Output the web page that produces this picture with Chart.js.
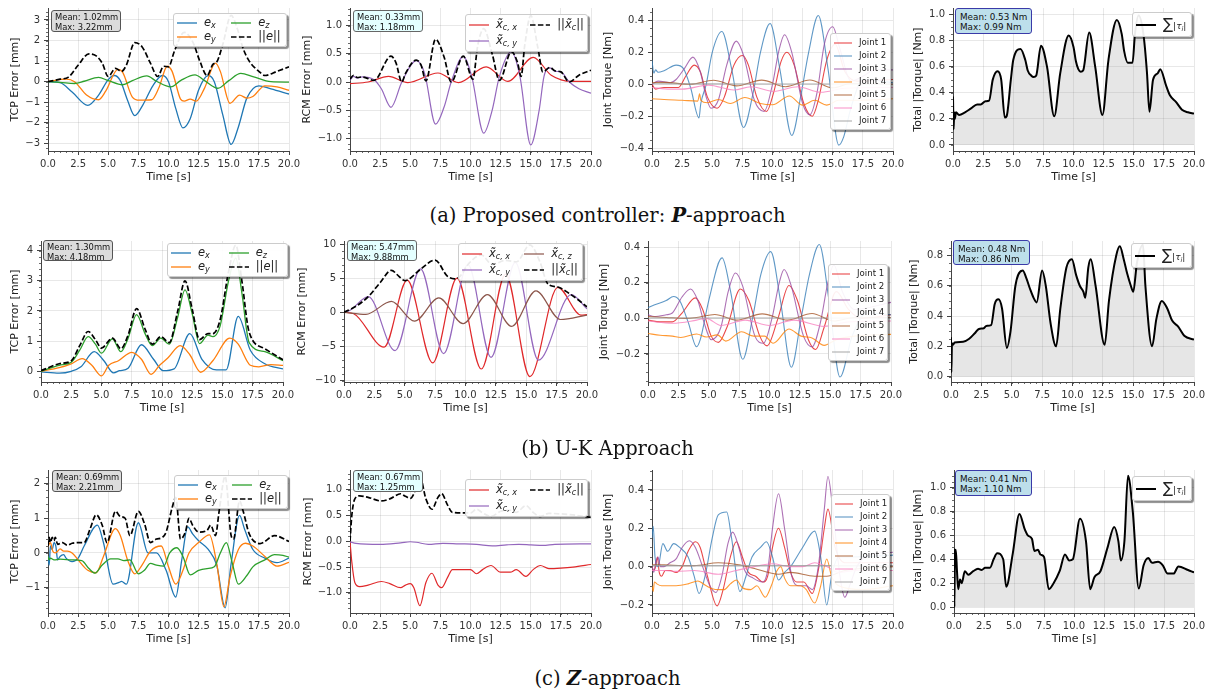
<!DOCTYPE html>
<html>
<head>
<meta charset="utf-8">
<script src="https://cdn.jsdelivr.net/npm/chart.js@4.4.0/dist/chart.umd.min.js"></script>
<style>
html, body { margin: 0; padding: 0; background: #fff; }
body { width: 1215px; height: 692px; position: relative; overflow: hidden; font-family: "DejaVu Sans", sans-serif; }
canvas { position: absolute; }
.leg { position: absolute; box-sizing: border-box; background: rgba(255,255,255,0.92); border: 1px solid #cccccc; border-radius: 3px;
       box-shadow: 2px 2px 1px rgba(0,0,0,0.45); display: grid; grid-auto-flow: column; align-items: center; padding: 2px 3px; z-index: 5; color: #222; }
.it { display: flex; align-items: center; white-space: nowrap; line-height: 1; }
.it svg { flex: none; margin-right: 7px; }
.it sub { font-size: 70%; vertical-align: -0.3em; line-height: 0; }
.stat { position: absolute; box-sizing: border-box; white-space: nowrap; font-size: 8.4px; line-height: 10px; padding: 1px 2px 1px 3px; border-radius: 3px; z-index: 4; color: #111; }
.cap { position: absolute; left: 0; width: 1215px; text-align: center; font-family: "DejaVu Serif", serif; font-size: 19.5px; line-height: 22px; color: #111; }
</style>
</head>
<body>
<script>
// ---- data (time [s], value) ----

// (a) P-approach
const pTcpEx = [[0,0],[1,-0.05],[2,-0.5],[3.3,-1.15],[4.2,-0.65],[5,0.1],[5.5,0.3],[6,0.05],[6.6,-0.9],[7.2,-1.65],[7.9,-1.1],[8.7,-0.2],[9.5,0.3],[10,0],[10.6,-1.3],[11.2,-2.25],[11.8,-1.8],[12.5,-0.4],[13.3,0.3],[13.8,0],[14.5,-1.6],[15.2,-3.05],[15.8,-2.2],[16.5,-0.8],[17.5,-0.2],[18.5,-0.35],[20,-0.6]];
const pTcpEy = [[0,0],[1.5,0.12],[2.2,0],[3.2,-0.65],[4.2,-0.88],[4.8,-0.45],[5.8,0.6],[6.2,0.45],[7,-0.75],[7.6,-0.9],[8.6,-0.88],[9.2,-0.3],[9.9,0.75],[10.3,0.5],[11,-0.85],[11.3,-0.95],[11.8,-0.85],[12.3,-0.95],[13,-0.3],[13.9,0.9],[14.3,0.5],[15.1,-1.05],[15.9,-0.65],[16.5,-0.8],[17,-0.72],[18,-0.2],[19,-0.25],[20,-0.42]];
const pTcpEz = [[0,0],[1,-0.03],[2.2,-0.09],[3,0.02],[4.2,0.21],[5,0.05],[6.2,-0.15],[7,0.05],[8.2,0.28],[9,0.02],[10.2,-0.25],[11,0.05],[12.2,0.33],[13,0.05],[14.1,-0.32],[15,0.05],[16,0.4],[17,0.25],[18.5,0],[20,-0.02]];
const pTcpNorm = [[0,0],[1,0.12],[1.7,0.22],[2.5,0.8],[3.4,1.35],[4,1.25],[4.5,0.9],[5,0.25],[5.6,0.65],[6.1,0.5],[6.5,0.8],[7.2,1.9],[7.8,1.7],[8.5,0.9],[9.1,0.25],[9.6,0.75],[10,0.72],[10.5,1.5],[11.3,2.4],[12,1.95],[12.6,1],[13.2,0.3],[13.7,0.85],[14,0.95],[14.5,1.8],[15.2,3.22],[15.7,2.6],[16.2,1.6],[16.7,1],[17.5,0.5],[18,0.3],[19,0.5],[20,0.72]];
const pRcmX = [[0,-0.03],[1.5,0],[3.2,0.1],[4.8,-0.01],[7.3,0.16],[9,-0.01],[11.3,0.27],[13.1,0.01],[15.2,0.44],[16.7,0.12],[18.4,0.01],[20,0.01]];
const pRcmY = [[0,0.03],[0.3,0.1],[0.6,0.07],[1,0.09],[2,0.04],[2.6,-0.12],[3.4,-0.45],[4.3,0],[5.5,0.38],[6.2,0.15],[7.1,-0.75],[7.8,-0.45],[8.4,0],[9.4,0.45],[10.1,0.1],[11.1,-0.91],[11.8,-0.5],[12.4,0.1],[13.4,0.54],[14.1,0.1],[15,-1.12],[15.7,-0.5],[16.1,0.1],[16.6,0.25],[17,0.19],[17.5,0.18],[18.2,0],[19,-0.12],[20,-0.2]];
const pRcmNorm = [[0,0.05],[0.3,0.12],[0.6,0.08],[1,0.09],[2,0.03],[3.4,0.46],[3.8,0.35],[4.3,0],[4.6,0.15],[5.5,0.39],[5.9,0.3],[6.3,0.02],[7.1,0.76],[7.8,0.45],[8.4,0],[9.4,0.46],[10.2,0.05],[10.6,0.65],[11.1,0.95],[11.8,0.5],[12.4,0.03],[13.4,0.54],[13.9,0.35],[14.2,0.1],[14.5,0.65],[15,1.18],[15.6,0.6],[16,0.18],[16.6,0.26],[17,0.2],[17.5,0.18],[18.2,0],[19,0.12],[20,0.21]];
const pJ1 = [[0,0],[0.3,-0.03],[1,-0.02],[2.2,-0.02],[2.8,0.05],[3.5,0.12],[4,0.08],[4.6,-0.08],[5.4,-0.15],[6,-0.08],[6.8,0.12],[7.5,0.18],[8,0.12],[8.7,-0.08],[9.5,-0.17],[10.1,-0.05],[10.7,0.14],[11.2,0.2],[11.8,0.12],[12.6,-0.12],[13.3,-0.2],[13.8,-0.1],[14.5,0.15],[15.2,0.25],[16,0.08],[17,0.02],[20,0.03]];
const pJ2 = [[0,0.15],[0.15,0.07],[0.3,0.09],[0.5,0.075],[1,0.085],[2,0.12],[2.6,0.1],[3.2,-0.02],[3.9,-0.21],[4.05,-0.12],[4.5,0],[5,0.2],[5.8,0.33],[6.6,0.1],[7.6,-0.27],[8.4,-0.05],[9,0.2],[9.8,0.38],[10.6,0.1],[11.6,-0.32],[12.4,-0.05],[13,0.2],[13.8,0.43],[14.6,0.1],[15.5,-0.38],[15.9,-0.33],[16.5,-0.15],[17.5,0.03],[20,0.01]];
const pJ3 = [[0,0],[0.5,0.02],[1.5,0.01],[2,0.03],[2.7,0.1],[3.4,0.17],[4,0.08],[4.5,-0.08],[4.9,-0.15],[5.5,-0.1],[6.2,0.12],[7,0.27],[7.6,0.18],[8.5,-0.1],[9.3,-0.17],[10,0],[10.5,0.2],[11,0.31],[11.6,0.2],[12.5,-0.12],[13.1,-0.19],[13.7,-0.05],[14.3,0.25],[15,0.36],[15.6,0.22],[16.5,0.02],[17.5,0.05],[18.5,0.09],[20,0.09]];
const pJ4 = [[0,-0.09],[1,-0.095],[2.5,-0.1],[3.8,-0.105],[3.95,-0.06],[4.05,-0.1],[4.6,-0.115],[5.5,-0.095],[6.5,-0.12],[7.7,-0.083],[9,-0.12],[10,-0.128],[11.4,-0.073],[12.5,-0.13],[13.5,-0.1],[14.5,-0.13],[15.5,-0.1],[17,-0.1],[20,-0.09]];
const pJ5 = [[0,0.01],[1,0.012],[3.2,0],[5.1,0.025],[7,-0.01],[9.1,0.026],[11.1,-0.015],[13.1,0.027],[15,-0.022],[16.5,0.005],[20,0]];
const pJ6 = [[0,-0.02],[1.5,-0.03],[2.5,-0.03],[4.7,-0.005],[6.8,-0.036],[8.2,-0.015],[10.1,-0.045],[12.1,-0.015],[14,-0.05],[16,-0.025],[20,-0.02]];
const pJ7 = [[0,0.003],[10,0.002],[20,0.002]];
const pTotal = [[0,0.37],[0.05,0.12],[0.1,0.25],[0.15,0.2],[0.25,0.25],[0.5,0.23],[1,0.25],[1.5,0.28],[2,0.31],[2.3,0.31],[2.7,0.335],[3,0.34],[3.3,0.5],[3.7,0.565],[4,0.5],[4.3,0.21],[4.45,0.22],[4.8,0.5],[5,0.65],[5.6,0.735],[6,0.65],[6.2,0.57],[6.5,0.53],[6.7,0.52],[6.9,0.53],[7.3,0.76],[7.8,0.6],[8.4,0.22],[8.9,0.55],[9.6,0.837],[10,0.75],[10.2,0.64],[10.4,0.58],[10.6,0.56],[10.8,0.57],[11.3,0.86],[11.8,0.6],[12.4,0.23],[12.9,0.65],[13.6,0.957],[14,0.85],[14.2,0.72],[14.5,0.63],[14.9,0.63],[15.1,0.85],[15.4,0.99],[15.8,0.85],[16.1,0.55],[16.3,0.255],[16.6,0.5],[17,0.55],[17.2,0.58],[17.7,0.45],[18,0.38],[18.5,0.33],[19,0.27],[19.5,0.25],[20,0.24]];

// (b) U-K approach
const ukTcpEx = [[0,-0.02],[1.5,-0.06],[2.5,0],[3.3,0.15],[4.4,0.65],[5.2,0.35],[6,-0.05],[6.5,0.02],[7.2,0.1],[8.3,0.88],[9.3,0.4],[10.1,0.02],[11,0.08],[12.3,1.25],[13.3,0.4],[14.5,0.05],[15.3,0.05],[16.3,1.82],[17.3,0.7],[18.5,0.25],[20,0.08]];
const ukTcpEy = [[0,0],[1.5,0.12],[2.5,0.25],[3.4,0.42],[4.2,0.2],[5,-0.15],[5.6,0.2],[6.4,0.35],[7.5,0.63],[8.3,0.4],[9.1,-0.1],[9.8,0.2],[10.5,0.45],[11.5,0.85],[12.3,0.55],[13.2,-0.03],[14.2,0.35],[15.6,1.1],[16.3,0.9],[17.3,0.2],[18,0.15],[19,0.22],[20,0.2]];
const ukTcpEz = [[0,0],[1.5,0.2],[2.5,0.3],[3.2,0.7],[3.9,1.15],[4.5,0.9],[5,0.6],[5.9,1.08],[6.6,0.65],[7.2,1.1],[7.9,1.88],[8.6,1.25],[9.2,0.85],[9.9,1.1],[10.6,0.9],[11.3,1.8],[11.9,2.7],[12.5,1.9],[13.1,0.92],[13.8,1.2],[14.2,1.15],[14.8,1.5],[15.5,3],[16.1,3.75],[16.6,2.6],[17.2,0.95],[18.5,0.65],[20,0.35]];
const ukTcpNorm = [[0,0.02],[1.5,0.25],[2.5,0.35],[3.2,0.85],[3.9,1.32],[4.5,1.05],[5,0.77],[5.9,1.1],[6.6,0.75],[7.2,1.2],[7.9,2.08],[8.6,1.4],[9.2,0.9],[9.9,1.15],[10.6,0.95],[11.3,2],[11.9,3],[12.5,2.05],[13.1,1.05],[13.8,1.25],[14.2,1.25],[14.8,1.7],[15.5,3.3],[16.1,4.18],[16.6,3],[17.2,1.3],[18.5,0.75],[20,0.38]];
const ukRcmX = [[0,0],[0.8,-0.2],[3.3,-5.1],[5.2,4.7],[7.3,-7.4],[9.3,5],[11.3,-8.3],[13.3,5.6],[15.3,-9.4],[17.6,3.65],[19.5,-0.4],[20,-0.35]];
const ukRcmY = [[0,0],[0.5,0.3],[2,2.3],[4.2,-5.6],[6.3,6.35],[8.2,-6.05],[10.2,7],[12.1,-6.6],[14.1,7.3],[16,-7],[18.7,2.6],[20,0.5]];
const ukRcmZ = [[0,0],[1.8,-0.3],[3.9,1.6],[5.8,-1.3],[7.8,2.1],[9.8,-1.65],[11.8,2.6],[13.8,-2.05],[15.8,3.15],[17.8,-1.05],[20,-0.4]];
const ukRcmNorm = [[0,0],[1,0.9],[2,2.3],[3,4.4],[3.9,6.15],[4.5,5.3],[5,4.65],[5.3,4.8],[6.3,6.3],[7.5,7.65],[8.5,5.3],[9.1,4.9],[9.5,5.2],[10.3,7.2],[11.3,8.4],[12.2,7],[13.3,7.6],[14.2,7.4],[15.3,9.88],[16.1,7.5],[16.8,4.1],[17.6,3.7],[18.5,2.8],[19.3,1.8],[20,0.8]];
const ukJ1 = [[0,-0.01],[1,-0.02],[2,-0.02],[2.8,0.03],[3.9,0.115],[4.5,0.05],[5.2,-0.1],[5.8,-0.135],[6.5,-0.05],[7.6,0.165],[8.3,0.1],[9.2,-0.1],[9.8,-0.155],[10.7,0],[11.6,0.185],[12.3,0.1],[13.2,-0.12],[13.8,-0.175],[14.5,-0.05],[15.5,0.15],[16.5,0.05],[17.5,0],[20,0.02]];
const ukJ2 = [[0,0.06],[0.5,0.075],[1.5,0.1],[2.1,0.123],[2.6,0.1],[3.3,-0.02],[4,-0.16],[4.3,-0.12],[5,0.1],[6.1,0.34],[6.8,0.15],[7.8,-0.23],[8.6,0],[9.3,0.25],[10.1,0.375],[10.9,0.1],[11.8,-0.275],[12.6,0],[13.3,0.25],[14.1,0.415],[14.9,0.1],[15.8,-0.33],[16.8,-0.1],[18,0.03],[20,0.02]];
const ukJ3 = [[0,0.02],[0.5,0.01],[1.5,0.02],[2,0.03],[2.8,0.12],[3.5,0.165],[4.1,0.1],[4.6,-0.02],[5.2,-0.12],[6,-0.05],[6.6,0.15],[7.2,0.255],[7.8,0.18],[8.8,-0.1],[9.5,-0.14],[10.2,0],[10.8,0.2],[11.2,0.275],[11.8,0.18],[12.8,-0.1],[13.5,-0.16],[14.2,-0.02],[14.8,0.2],[15.3,0.3],[16,0.15],[17,0.05],[20,0.09]];
const ukJ4 = [[0,-0.085],[1,-0.095],[2,-0.1],[2.7,-0.108],[4,-0.088],[4.8,-0.105],[5.7,-0.093],[6.4,-0.128],[7.7,-0.075],[8.7,-0.1],[9.6,-0.1],[10.3,-0.14],[11.6,-0.06],[12.6,-0.1],[13.5,-0.11],[14.5,-0.152],[15.5,-0.12],[17,-0.1],[20,-0.09]];
const ukJ5 = [[0,0.01],[1.5,0.005],[3,0],[4,0.005],[5.5,0.022],[7.3,-0.01],[9.4,0.025],[11.5,-0.01],[13.5,0.027],[15.3,-0.015],[17,0.005],[20,0.005]];
const ukJ6 = [[0,-0.015],[2,-0.028],[4,-0.01],[4.8,0],[6,-0.04],[8,-0.01],[10,-0.04],[12,-0.01],[14.5,-0.045],[16.5,-0.02],[20,-0.015]];
const ukJ7 = [[0,0.002],[10,0.002],[20,0.002]];
const ukTotal = [[0,0.26],[0.03,0.03],[0.08,0.22],[0.15,0.21],[0.3,0.225],[1,0.23],[1.5,0.25],[2,0.29],[2.3,0.315],[2.7,0.32],[2.9,0.335],[3.3,0.34],[3.6,0.48],[3.9,0.51],[4.2,0.45],[4.6,0.19],[4.9,0.3],[5.3,0.6],[5.9,0.7],[6.2,0.65],[6.5,0.58],[6.8,0.52],[7.05,0.49],[7.5,0.7],[7.8,0.6],[8.2,0.35],[8.65,0.2],[9,0.45],[9.5,0.72],[9.95,0.775],[10.3,0.67],[10.6,0.6],[10.9,0.56],[11.05,0.52],[11.3,0.72],[11.5,0.775],[11.9,0.6],[12.65,0.21],[13,0.5],[13.6,0.8],[13.9,0.86],[14.2,0.78],[14.5,0.68],[14.8,0.6],[15,0.56],[15.3,0.75],[15.8,0.87],[16,0.6],[16.55,0.2],[16.9,0.38],[17.35,0.5],[17.8,0.45],[18.2,0.37],[18.7,0.33],[19.2,0.27],[20,0.245]];

// (c) Z-approach
const zTcpEx = [[0,-0.1],[0.1,-0.35],[0.2,0.2],[0.35,0.1],[0.5,0.3],[0.65,0.2],[0.8,-0.2],[1,-0.1],[1.3,-0.05],[1.5,-0.15],[2,-0.25],[2.5,-0.15],[3,0.2],[4.1,0.8],[4.6,0.3],[5.4,-0.9],[5.9,-0.85],[6.1,-0.82],[6.5,-0.9],[7.5,0.87],[8.3,0],[9,0],[9.8,-0.5],[10.6,-1.27],[11.1,-0.2],[11.6,0.75],[12,0.55],[12.5,0.35],[13.3,0.1],[14,-0.35],[14.7,-1.58],[15.2,-0.3],[15.9,1.08],[16.3,0.7],[17,0.1],[18,-0.15],[19,-0.28],[20,-0.15]];
const zTcpEy = [[0,0.2],[0.2,0.3],[0.4,0.05],[0.6,0],[0.8,0.05],[1,0.12],[1.3,0.05],[1.6,0.05],[2,0],[2.5,-0.2],[3.3,-0.5],[4,-0.57],[4.6,-0.1],[5.6,0.7],[6,0.5],[6.6,-0.2],[7.2,-0.6],[7.8,-0.35],[8.5,0.05],[9.4,0.2],[10,-0.4],[10.6,-0.9],[11.2,-0.5],[11.7,0],[12.5,0.3],[13.4,0.52],[14,-0.3],[14.6,-1.55],[15.1,-0.7],[15.8,0.1],[16.4,0.28],[17,0.2],[18,-0.1],[19,-0.38],[20,-0.27]];
const zTcpEz = [[0,-0.1],[0.1,-0.2],[0.2,-0.15],[0.5,-0.2],[1,-0.18],[2,-0.2],[2.8,-0.22],[3.4,-0.45],[3.9,-0.58],[4.5,-0.35],[5.2,-0.17],[5.8,-0.17],[6.3,-0.22],[6.8,-0.2],[7.5,-0.6],[8,-0.5],[8.5,-0.3],[9,-0.35],[9.6,-0.38],[10.1,0],[10.7,0.15],[11.2,-0.1],[11.8,-0.63],[12.5,-0.5],[13.2,-0.45],[13.8,-0.4],[14.3,0],[14.8,0.3],[15.3,-0.3],[15.8,-0.9],[16.5,-0.65],[17,-0.4],[18,-0.2],[18.8,-0.05],[19.5,-0.07],[20,-0.12]];
const zTcpNorm = [[0,0.2],[0.1,0.45],[0.2,0.3],[0.35,0.45],[0.5,0.35],[0.6,0.45],[0.8,0.25],[1.2,0.3],[1.6,0.22],[2,0.28],[2.5,0.3],[3,0.3],[3.5,0.7],[4,1.1],[4.5,0.8],[4.9,0.3],[5.6,1.2],[6,1.05],[6.4,1],[6.8,0.5],[7.5,1.2],[8,0.85],[8.5,0.3],[9,0.4],[9.5,0.45],[9.8,0.6],[10.3,1.3],[10.6,1.6],[11,0.4],[11.4,0.6],[11.7,1],[12,0.8],[12.5,0.6],[13.2,0.65],[13.5,0.8],[13.9,0.5],[14.2,1.2],[14.7,2.21],[15.2,0.5],[15.4,0.4],[15.9,1.5],[16.2,1.2],[16.7,0.55],[17.6,0.27],[18.8,0.5],[20,0.33]];
const zRcmX = [[0,0],[0.15,-0.4],[0.4,-0.8],[0.8,-0.88],[1.5,-0.85],[2.6,-0.78],[3.3,-0.82],[4.2,-0.9],[4.6,-0.85],[5,-0.82],[5.3,-0.9],[5.8,-1.25],[6.3,-0.8],[6.8,-0.62],[7.3,-0.85],[7.6,-0.9],[8.1,-0.7],[8.5,-0.55],[9.5,-0.55],[10,-0.55],[10.5,-0.63],[11,-0.55],[11.7,-0.47],[12.5,-0.6],[13.3,-0.6],[13.8,-0.55],[14.6,-0.68],[15.2,-0.55],[15.8,-0.47],[16.5,-0.53],[17.5,-0.52],[18.5,-0.5],[20,-0.45]];
const zRcmY = [[0,-0.01],[0.5,-0.04],[2.5,-0.06],[4.2,-0.03],[5,-0.01],[5.5,-0.02],[6.5,-0.06],[7.7,-0.04],[9,-0.05],[10.5,-0.06],[11.8,-0.09],[13,-0.07],[14,-0.06],[15,-0.07],[16,-0.08],[17,-0.06],[20,-0.05]];
const zRcmNorm = [[0,0],[0.15,0.5],[0.4,0.82],[0.8,0.88],[1.5,0.85],[2.6,0.78],[3.3,0.82],[4.2,0.92],[4.6,0.87],[5,0.83],[5.3,0.92],[5.8,1.25],[6.3,0.82],[6.8,0.62],[7.3,0.85],[7.6,0.92],[8.1,0.7],[8.5,0.56],[9.5,0.55],[10,0.55],[10.5,0.62],[11,0.55],[11.7,0.48],[12.5,0.58],[13.3,0.6],[13.8,0.56],[14.6,0.69],[15.2,0.56],[15.8,0.48],[16.5,0.54],[17.5,0.53],[18.5,0.51],[20,0.46]];
const zJ1 = [[0,0],[0.15,-0.02],[0.3,0],[0.45,0.05],[0.6,-0.03],[0.8,-0.05],[1.1,-0.02],[1.5,-0.02],[2,-0.03],[2.5,0],[3,0.08],[3.6,0.13],[4,0.1],[4.6,-0.05],[5.4,-0.205],[5.9,-0.12],[6.5,0.05],[7,0.13],[7.5,0.05],[8,-0.03],[8.6,-0.05],[9.2,-0.08],[9.6,-0.05],[10,0.1],[10.5,0.2],[11,0.1],[11.5,-0.03],[12,-0.08],[12.6,-0.08],[13.3,-0.14],[13.8,-0.02],[14.3,0.2],[14.6,0.3],[15.2,0.1],[16,0.02],[20,0.02]];
const zJ2 = [[0,0.15],[0.1,0.21],[0.25,0.05],[0.5,0],[0.9,0.12],[1.3,0.08],[1.8,0.12],[2.3,0.1],[3,0.05],[3.5,-0.05],[3.9,-0.14],[4.4,-0.05],[5,0.15],[5.5,0.27],[6.2,0.285],[6.6,0.15],[7.3,-0.13],[7.8,-0.05],[8.3,0.05],[9,0.1],[9.5,0.13],[10,0.05],[10.5,-0.07],[11,-0.03],[11.5,0],[12.5,0.1],[13.5,0.185],[14,0.05],[14.5,-0.2],[14.9,-0.05],[15.5,0.05],[16.5,0.05],[20,0.06]];
const zJ3 = [[0,0],[0.15,-0.03],[0.3,0.02],[0.5,0.05],[0.7,0],[1,0],[1.5,0.02],[2,0.04],[2.5,0.1],[3.1,0.135],[3.6,0.1],[4.2,0],[4.8,-0.1],[5.3,-0.135],[5.8,-0.05],[6.3,0.12],[6.7,0.18],[7.2,0.1],[7.7,-0.02],[8.4,-0.06],[9.2,-0.08],[9.6,-0.02],[10,0.2],[10.5,0.38],[11,0.2],[11.6,-0.05],[12.2,-0.1],[12.8,-0.1],[13.3,-0.12],[13.8,0],[14.3,0.3],[14.6,0.47],[15,0.3],[15.6,-0.05],[16,-0.16],[16.4,-0.1],[17,0],[18,0.06],[20,0.075]];
const zJ4 = [[0,-0.1],[0.1,-0.13],[0.2,-0.08],[0.4,-0.09],[0.8,-0.1],[2,-0.1],[3,-0.09],[3.8,-0.075],[4.5,-0.1],[5,-0.115],[5.5,-0.12],[6,-0.12],[6.5,-0.09],[7,-0.07],[7.5,-0.11],[8.2,-0.12],[8.7,-0.1],[9.4,-0.16],[9.9,-0.1],[10.3,-0.03],[10.7,0],[11,-0.06],[11.5,-0.1],[12.3,-0.1],[12.8,-0.12],[13.5,-0.19],[14,-0.1],[14.5,0.04],[14.9,-0.05],[15.5,-0.1],[17.5,-0.12],[20,-0.1]];
const zJ5 = [[0,0.01],[1,0.01],[2.5,0.005],[3.5,0.005],[5.5,0.02],[7.2,0.01],[8.5,-0.01],[10.5,-0.04],[11.5,-0.03],[13.5,-0.05],[14.5,-0.05],[16,-0.02],[20,0]];
const zJ6 = [[0,-0.02],[1,-0.02],[2,-0.025],[3.5,-0.02],[5.5,-0.04],[7,-0.02],[8.5,0],[10,0.015],[11.5,0],[12.5,0],[13.5,0.02],[14.5,0],[15.5,-0.03],[17,-0.02],[20,-0.02]];
const zJ7 = [[0,0.005],[10,0.005],[20,0.005]];
const zTotal = [[0,0.49],[0.03,0],[0.08,0.45],[0.15,0.48],[0.25,0.3],[0.35,0.15],[0.5,0.23],[0.65,0.2],[0.9,0.3],[1.2,0.27],[1.6,0.3],[2,0.32],[2.3,0.31],[2.6,0.33],[3,0.33],[3.3,0.4],[3.6,0.45],[4.1,0.4],[4.35,0.17],[4.9,0.45],[5.45,0.78],[5.9,0.65],[6.15,0.6],[6.5,0.57],[6.7,0.47],[7,0.48],[7.2,0.44],[7.5,0.42],[7.9,0.15],[8.3,0.2],[8.8,0.3],[9.25,0.44],[9.6,0.39],[9.9,0.4],[10.5,0.74],[11,0.55],[11.35,0.15],[11.7,0.25],[12.2,0.3],[12.8,0.5],[13.35,0.67],[13.7,0.55],[13.9,0.39],[14.2,0.55],[14.5,1.1],[14.9,0.8],[15.4,0.155],[15.8,0.35],[16.2,0.41],[16.5,0.37],[17,0.38],[17.4,0.35],[17.8,0.28],[18.3,0.28],[18.7,0.34],[19.5,0.31],[20,0.29]];

const jointLabels = ['Joint 1', 'Joint 2', 'Joint 3', 'Joint 4', 'Joint 5', 'Joint 6', 'Joint 7'];
const statTexts = [
  ['Mean: 1.02mm', 'Max: 3.22mm'], ['Mean: 0.33mm', 'Max: 1.18mm'], ['Mean: 0.53 Nm', 'Max: 0.99 Nm'],
  ['Mean: 1.30mm', 'Max: 4.18mm'], ['Mean: 5.47mm', 'Max: 9.88mm'], ['Mean: 0.48 Nm', 'Max: 0.86 Nm'],
  ['Mean: 0.69mm', 'Max: 2.21mm'], ['Mean: 0.67mm', 'Max: 1.25mm'], ['Mean: 0.41 Nm', 'Max: 1.10 Nm']
];
const captions = [
  '(a) Proposed controller: <b><i>P</i></b>-approach',
  '(b) U-K Approach',
  '(c) <b><i>Z</i></b>-approach'
];

// ---- styles ----
const C = { ex: '#1f77b4', ey: '#ff7f0e', ez: '#2ca02c', rx: '#e0282a', ry: '#9467bd', rz: '#8c564b', k: '#000000' };
const jointColors = ['rgba(228,26,28,0.8)', 'rgba(55,126,184,0.8)', 'rgba(152,78,163,0.8)', 'rgba(255,127,0,0.8)',
                     'rgba(166,86,40,0.8)', 'rgba(247,129,191,0.8)', 'rgba(153,153,153,0.8)'];
const DASH = [5.5, 2.4];
const lbl = {
  ex: '<i>e<sub>x</sub></i>', ey: '<i>e<sub>y</sub></i>', ez: '<i>e<sub>z</sub></i>', en: '||<i>e</i>||',
  rx: '<i>x̃<sub>c, x</sub></i>', ry: '<i>x̃<sub>c, y</sub></i>', rz: '<i>x̃<sub>c, z</sub></i>', rn: '||<i>x̃<sub>c</sub></i>||',
  tot: '<span style="font-size:15px">∑</span><span style="font-size:9px">|<i>τ<sub>i</sub></i>|</span>'
};

function tcp(ex, ey, ez, en) {
  return [
    { d: ex, c: C.ex, w: 1.3, l: lbl.ex }, { d: ey, c: C.ey, w: 1.3, l: lbl.ey },
    { d: ez, c: C.ez, w: 1.3, l: lbl.ez }, { d: en, c: C.k, w: 1.7, dash: DASH, l: lbl.en }
  ];
}
function joints(list) {
  return list.map((d, i) => ({ d: d, c: jointColors[i], w: 1.1, l: jointLabels[i] }));
}
function total(d) {
  return [{ d: d, c: C.k, w: 2, l: lbl.tot, fill: 'rgba(140,140,140,0.22)' }];
}
const fmt1 = v => v.toFixed(1).replace('-', '\u2212');
const fmt0 = v => String(Math.round(v)).replace('-', '\u2212');

const GRAY = { bg: '#dcdcdc', bd: '#555555' }, CYAN = { bg: '#e4ffff', bd: '#666666' }, BLUE = { bg: '#bddfeb', bd: '#3a3aa8' };
const tcpLeg = { rows: 2, rh: 14, fs: 11.5, ll: 20, gap: 13 };
const rcmLeg = { rows: 2, rh: 16, fs: 11.5, ll: 20, gap: 13 };
const jointLeg = { rows: 7, rh: 13, fs: 8.6, ll: 18, gap: 0 };
const totLeg = { rows: 1, rh: 19, fs: 11, ll: 20, gap: 0 };

const panels = [
  { box: [48, 8, 289, 151], yw: 43, y: [-3.37, 3.58, 1, 0.2, fmt0], title: 'TCP Error [mm]', series: tcp(pTcpEx, pTcpEy, pTcpEz, pTcpNorm),
    leg: Object.assign({ x: 173, y: 13, w: 114 }, tcpLeg), stat: { x: 51, y: 10, h: 22, t: statTexts[0], s: GRAY } },
  { box: [350, 8, 591, 151], yw: 53, y: [-1.228, 1.317, 0.5, 0.1, fmt1], title: 'RCM Error [mm]',
    series: [{ d: pRcmX, c: C.rx, w: 1.2, l: lbl.rx }, { d: pRcmY, c: C.ry, w: 1.2, l: lbl.ry }, { d: pRcmNorm, c: C.k, w: 1.7, dash: DASH, l: lbl.rn }],
    leg: Object.assign({ x: 465, y: 14, w: 123 }, rcmLeg), stat: { x: 353, y: 10, h: 22, t: statTexts[1], s: CYAN } },
  { box: [652, 8, 893, 151], yw: 54, y: [-0.417, 0.477, 0.2, 0.05, fmt1], title: 'Joint Torque [Nm]', series: joints([pJ1, pJ2, pJ3, pJ4, pJ5, pJ6, pJ7]),
    leg: Object.assign({ x: 830, y: 33, w: 61 }, jointLeg) },
  { box: [953, 8, 1194, 151], yw: 45, y: [-0.046, 1.048, 0.2, 0.05, fmt1], title: 'Total |Torque| [Nm]', series: total(pTotal),
    leg: Object.assign({ x: 1132, y: 12, w: 60 }, totLeg), stat: { x: 955, y: 8, h: 26, t: statTexts[2], s: BLUE } },

  { box: [41, 241, 283, 382], yw: 36, y: [-0.354, 4.32, 1, 0.2, fmt0], title: 'TCP Error [mm]', series: tcp(ukTcpEx, ukTcpEy, ukTcpEz, ukTcpNorm),
    leg: Object.assign({ x: 167, y: 243, w: 121 }, tcpLeg), stat: { x: 43, y: 240, h: 21, t: statTexts[3], s: GRAY } },
  { box: [344, 241, 587, 382], yw: 52, y: [-10.2, 10.44, 5, 1, fmt0], title: 'RCM Error [mm]',
    series: [{ d: ukRcmX, c: C.rx, w: 1.2, l: lbl.rx }, { d: ukRcmY, c: C.ry, w: 1.2, l: lbl.ry }, { d: ukRcmZ, c: C.rz, w: 1.2, l: lbl.rz }, { d: ukRcmNorm, c: C.k, w: 1.7, dash: DASH, l: lbl.rn }],
    leg: Object.assign({ x: 458, y: 243, w: 125 }, rcmLeg), stat: { x: 347, y: 240, h: 21, t: statTexts[4], s: CYAN } },
  { box: [648, 241, 891, 382], yw: 54, y: [-0.358, 0.435, 0.2, 0.05, fmt1], title: 'Joint Torque [Nm]', series: joints([ukJ1, ukJ2, ukJ3, ukJ4, ukJ5, ukJ6, ukJ7]),
    leg: Object.assign({ x: 828, y: 264, w: 60 }, jointLeg) },
  { box: [951, 241, 1194, 382], yw: 47, y: [-0.035, 0.895, 0.2, 0.05, fmt1], title: 'Total |Torque| [Nm]', series: total(ukTotal),
    leg: Object.assign({ x: 1131, y: 243, w: 61 }, totLeg), stat: { x: 953, y: 240, h: 25, t: statTexts[5], s: BLUE } },

  { box: [48, 470, 289, 613], yw: 43, y: [-1.73, 2.39, 1, 0.2, fmt0], title: 'TCP Error [mm]', series: tcp(zTcpEx, zTcpEy, zTcpEz, zTcpNorm),
    leg: Object.assign({ x: 174, y: 475, w: 114 }, tcpLeg), stat: { x: 52, y: 470, h: 22, t: statTexts[6], s: GRAY } },
  { box: [350, 470, 591, 613], yw: 52, y: [-1.39, 1.38, 0.5, 0.1, fmt1], title: 'RCM Error [mm]',
    series: [{ d: zRcmX, c: C.rx, w: 1.2, l: lbl.rx }, { d: zRcmY, c: C.ry, w: 1.2, l: lbl.ry }, { d: zRcmNorm, c: C.k, w: 1.7, dash: DASH, l: lbl.rn }],
    leg: Object.assign({ x: 465, y: 479, w: 123 }, rcmLeg), stat: { x: 353, y: 470, h: 22, t: statTexts[7], s: CYAN } },
  { box: [652, 470, 893, 613], yw: 54, y: [-0.242, 0.504, 0.2, 0.05, fmt1], title: 'Joint Torque [Nm]', series: joints([zJ1, zJ2, zJ3, zJ4, zJ5, zJ6, zJ7]),
    leg: Object.assign({ x: 831, y: 494, w: 59 }, jointLeg) },
  { box: [954, 470, 1194, 613], yw: 46, y: [-0.05, 1.148, 0.2, 0.05, fmt1], title: 'Total |Torque| [Nm]', series: total(zTotal),
    leg: Object.assign({ x: 1132, y: 476, w: 60 }, totLeg), stat: { x: 955, y: 470, h: 26, t: statTexts[8], s: BLUE } }
];

// minor ticks on the bottom and left spines
const minorTicks = {
  id: 'minorTicks',
  afterDraw(chart, args, opts) {
    const { ctx, chartArea: a, scales: { x, y } } = chart;
    ctx.save();
    ctx.strokeStyle = '#444';
    ctx.lineWidth = 0.8;
    ctx.beginPath();
    for (let v = 0; v <= 20.001; v += 0.5) {
      const px = Math.round(x.getPixelForValue(v)) + 0.5;
      ctx.moveTo(px, a.bottom); ctx.lineTo(px, a.bottom + 2);
    }
    const st = opts.step;
    for (let k = Math.ceil(y.min / st); k * st <= y.max + 1e-9; k++) {
      const py = Math.round(y.getPixelForValue(k * st)) + 0.5;
      ctx.moveTo(a.left, py); ctx.lineTo(a.left - 2, py);
    }
    ctx.stroke();
    ctx.restore();
  }
};

const PT = 12, PR = 16, PB = 37;
const tickFont = { family: 'DejaVu Sans', size: 10 };
const titleFont = { family: 'DejaVu Sans', size: 11 };

panels.forEach(function (p) {
  const [l, t, r, b] = p.box;
  const cv = document.createElement('canvas');
  const W = (r - l) + p.yw + PR, H = (b - t) + PT + PB;
  cv.width = W; cv.height = H;
  cv.style.left = (l - p.yw) + 'px';
  cv.style.top = (t - PT) + 'px';
  cv.style.width = W + 'px';
  cv.style.height = H + 'px';
  document.body.appendChild(cv);

  const datasets = p.series.map((s, i) => ({
    data: s.d.map(q => ({ x: q[0], y: q[1] })),
    borderColor: s.c,
    borderWidth: s.w,
    borderDash: s.dash || [],
    fill: s.fill ? 'origin' : false,
    backgroundColor: s.fill || 'transparent',
    cubicInterpolationMode: 'monotone',
    pointRadius: 0,
    order: -i
  }));

  new Chart(cv, {
    type: 'line',
    data: { datasets: datasets },
    options: {
      responsive: false,
      animation: false,
      devicePixelRatio: 1,
      layout: { padding: { top: PT, right: PR, left: 0, bottom: 0 } },
      plugins: { legend: { display: false }, tooltip: { enabled: false }, minorTicks: { step: p.y[3] } },
      scales: {
        x: {
          type: 'linear', min: 0, max: 20,
          ticks: { stepSize: 2.5, includeBounds: false, autoSkip: false, maxRotation: 0, padding: 3, color: '#333', font: tickFont,
                   callback: v => v.toFixed(1) },
          grid: { color: 'rgba(0,0,0,0.09)', tickColor: '#444', tickLength: 4 },
          border: { color: '#444', width: 1 },
          title: { display: true, text: 'Time [s]', color: '#222', font: titleFont, padding: { top: 2, bottom: 4 } },
          afterFit: s => { s.height = PB; }
        },
        y: {
          type: 'linear', min: p.y[0], max: p.y[1],
          ticks: { stepSize: p.y[2], includeBounds: false, padding: 4, color: '#333', font: tickFont, callback: p.y[4] },
          grid: { color: 'rgba(0,0,0,0.09)', tickColor: '#444', tickLength: 4 },
          border: { color: '#444', width: 1 },
          title: { display: true, text: p.title, color: '#222', font: titleFont, padding: { top: 4, bottom: 0 } },
          afterFit: s => { s.width = p.yw; }
        }
      }
    },
    plugins: [minorTicks]
  });

  // legend
  const g = p.leg;
  const lg = document.createElement('div');
  lg.className = 'leg';
  lg.style.left = g.x + 'px';
  lg.style.top = g.y + 'px';
  lg.style.width = g.w + 'px';
  lg.style.fontSize = g.fs + 'px';
  lg.style.gridTemplateRows = 'repeat(' + g.rows + ', ' + g.rh + 'px)';
  lg.style.columnGap = g.gap + 'px';
  p.series.forEach(s => {
    const it = document.createElement('div');
    it.className = 'it';
    const dash = s.dash ? ' stroke-dasharray="' + s.dash.join(' ') + '"' : '';
    it.innerHTML = '<svg width="' + g.ll + '" height="6"><line x1="0" y1="3" x2="' + g.ll + '" y2="3" stroke="' + s.c +
      '" stroke-width="' + s.w + '"' + dash + '/></svg><span>' + s.l + '</span>';
    lg.appendChild(it);
  });
  document.body.appendChild(lg);

  // mean / max box
  if (p.stat) {
    const st = document.createElement('div');
    st.className = 'stat';
    st.style.left = p.stat.x + 'px';
    st.style.top = p.stat.y + 'px';
    st.style.height = p.stat.h + 'px';
    st.style.background = p.stat.s.bg;
    st.style.border = '1px solid ' + p.stat.s.bd;
    st.style.paddingTop = ((p.stat.h - 22) / 2 + 1) + 'px';
    if (p.stat.s === BLUE) { st.style.paddingLeft = '4px'; st.style.paddingRight = '4px'; st.style.fontSize = '8.8px'; }
    st.innerHTML = p.stat.t.join('<br>');
    document.body.appendChild(st);
  }
});

// captions
[205, 438, 668].forEach((top, i) => {
  const c = document.createElement('div');
  c.className = 'cap';
  c.style.top = top + 'px';
  c.innerHTML = captions[i];
  document.body.appendChild(c);
});
</script>
</body>
</html>
